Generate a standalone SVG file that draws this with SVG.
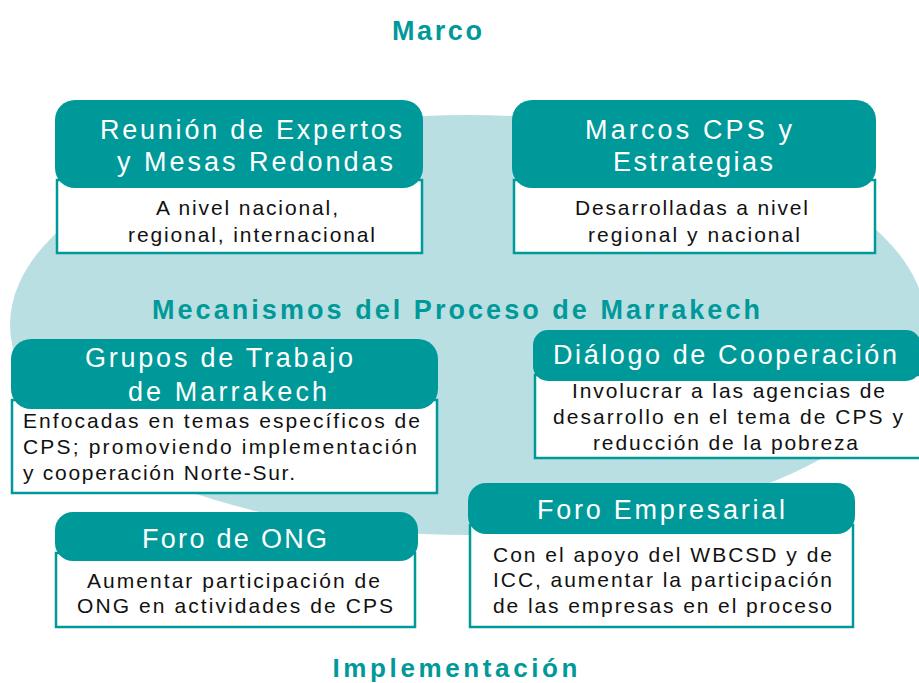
<svg xmlns="http://www.w3.org/2000/svg" width="919" height="683" viewBox="0 0 919 683">
<style>
.title{font-family:"Liberation Sans",Arial,sans-serif;font-weight:bold;font-size:27px;fill:#009999;text-anchor:middle}
.hdr{fill:#009999}
.body{fill:#ffffff;stroke:#009999;stroke-width:2.5}
.ht{font-family:"Liberation Sans",Arial,sans-serif;font-size:27px;fill:#ffffff;text-anchor:middle}
.bt{font-family:"Liberation Sans",Arial,sans-serif;font-size:21px;fill:#111111;text-anchor:middle}
.bl{text-anchor:start}
</style>
<rect x="0" y="0" width="919" height="683" fill="#ffffff"/>
<ellipse cx="468" cy="325" rx="458" ry="210" fill="#B9DFE3"/>
<text class="title" x="437" y="40" textLength="90" lengthAdjust="spacing">Marco</text>
<text class="title" x="456" y="319" textLength="608" lengthAdjust="spacing">Mecanismos del Proceso de Marrakech</text>
<text class="title" x="455" y="677" style="font-size:26px" textLength="245" lengthAdjust="spacing">Implementación</text>
<g id="connectors"></g>
<g id="reunion">
<rect class="body" x="57" y="180" width="365" height="73"/>
<rect class="hdr" x="55" y="100" width="368" height="88" rx="20"/>
<text class="ht" x="251" y="139" textLength="302" lengthAdjust="spacing">Reunión de Expertos</text>
<text class="ht" x="255" y="171" textLength="276" lengthAdjust="spacing">y Mesas Redondas</text>
<text class="bt" x="247" y="215" textLength="182" lengthAdjust="spacing">A nivel nacional,</text>
<text class="bt" x="251.5" y="242" textLength="247" lengthAdjust="spacing">regional, internacional</text>
</g>
<g id="marcos">
<rect class="body" x="514" y="180" width="361" height="73"/>
<rect class="hdr" x="512" y="100" width="364" height="88" rx="20"/>
<text class="ht" x="688.5" y="139" textLength="207" lengthAdjust="spacing">Marcos CPS y</text>
<text class="ht" x="693" y="171" textLength="160" lengthAdjust="spacing">Estrategias</text>
<text class="bt" x="691.5" y="215" textLength="233" lengthAdjust="spacing">Desarrolladas a nivel</text>
<text class="bt" x="694" y="242" textLength="212" lengthAdjust="spacing">regional y nacional</text>
</g>
<g id="grupos">
<rect class="body" x="12" y="400" width="425" height="93"/>
<rect class="hdr" x="11" y="339" width="427" height="70" rx="20"/>
<text class="ht" x="219" y="367" textLength="268" lengthAdjust="spacing">Grupos de Trabajo</text>
<text class="ht" x="227.5" y="401" textLength="199" lengthAdjust="spacing">de Marrakech</text>
<text class="bt bl" x="23" y="428" textLength="397" lengthAdjust="spacing">Enfocadas en temas específicos de</text>
<text class="bt bl" x="23" y="454" textLength="394" lengthAdjust="spacing">CPS; promoviendo implementación</text>
<text class="bt bl" x="23" y="480" textLength="272" lengthAdjust="spacing">y cooperación Norte-Sur.</text>
</g>
<g id="dialogo">
<rect class="body" x="535" y="375" width="386" height="83"/>
<rect class="hdr" x="533" y="330" width="388" height="51" rx="15"/>
<text class="ht" x="725" y="364" textLength="344" lengthAdjust="spacing">Diálogo de Cooperación</text>
<text class="bt" x="728.5" y="398" textLength="313" lengthAdjust="spacing">Involucrar a las agencias de</text>
<text class="bt" x="728" y="424" textLength="350" lengthAdjust="spacing">desarrollo en el tema de CPS y</text>
<text class="bt" x="725.5" y="450" textLength="265" lengthAdjust="spacing">reducción de la pobreza</text>
</g>
<g id="foro-ong">
<rect class="body" x="56" y="553" width="359" height="74"/>
<rect class="hdr" x="55" y="512" width="363" height="49" rx="18"/>
<text class="ht" x="234.5" y="548" textLength="185" lengthAdjust="spacing">Foro de ONG</text>
<text class="bt" x="233.5" y="588" textLength="293" lengthAdjust="spacing">Aumentar participación de</text>
<text class="bt" x="235" y="613" textLength="316" lengthAdjust="spacing">ONG en actividades de CPS</text>
</g>
<g id="foro-empresarial">
<rect class="body" x="470" y="525" width="383" height="102"/>
<rect class="hdr" x="468" y="483" width="387" height="51" rx="18"/>
<text class="ht" x="661" y="519" textLength="248" lengthAdjust="spacing">Foro Empresarial</text>
<text class="bt" x="662.5" y="562" textLength="339" lengthAdjust="spacing">Con el apoyo del WBCSD y de</text>
<text class="bt" x="662.5" y="587" textLength="339" lengthAdjust="spacing">ICC, aumentar la participación</text>
<text class="bt" x="662.5" y="613" textLength="339" lengthAdjust="spacing">de las empresas en el proceso</text>
</g>
</svg>
